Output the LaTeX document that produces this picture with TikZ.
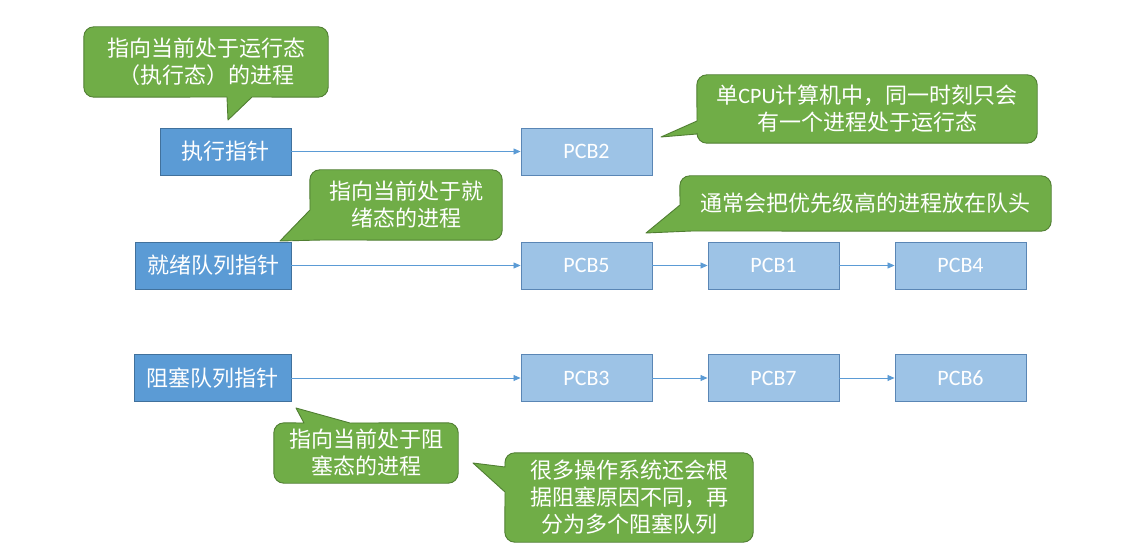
\documentclass[tikz,border=0pt]{standalone}
\usepackage{fontspec}
\setmainfont{Carlito}
\newfontfamily\cjk{Noto Sans CJK SC}
\newfontfamily\lat{Carlito}
\usetikzlibrary{arrows.meta}
\definecolor{dblue}{HTML}{5B9BD5}
\definecolor{bord}{HTML}{41719C}
\definecolor{lblue}{HTML}{9DC3E6}
\definecolor{lbord}{HTML}{5A86B5}
\definecolor{cgreen}{HTML}{70AD47}
\definecolor{gbord}{HTML}{507E32}
\pgfdeclarelayer{bg}
\pgfsetlayers{bg,main}
\tikzset{
  ptrbox/.style={draw=bord, fill=dblue, line width=0.9pt, text=white,
    font=\cjk\fontsize{22}{26}\selectfont, inner sep=0pt, minimum height=47},
  pcbbox/.style={draw=lbord, fill=lblue, line width=0.9pt, text=white,
    font=\lat\fontsize{22}{26}\selectfont, inner sep=0pt, minimum width=131, minimum height=47},
  link/.style={draw=dblue, line width=0.8pt, -{Triangle[length=7pt,width=6pt]}},
  ctext/.style={text=white, font=\cjk\fontsize{22}{27}\selectfont, align=center, inner sep=0pt},
  callout/.style={fill=cgreen, draw=gbord, line width=0.9pt, line join=round},
}
\begin{document}
\begin{tikzpicture}[x=1pt,y=-1pt]
\useasboundingbox (0,0) rectangle (1124,548);
% pointer boxes
\node[ptrbox, minimum width=131] (ex) at (225.5,151.5) {执行指针};
\node[ptrbox, minimum width=156] (rd) at (213,265.5) {就绪队列指针};
\node[ptrbox, minimum width=157] (bl) at (212.5,378) {阻塞队列指针};
% PCB boxes
\node[pcbbox] (p2) at (586.5,151.5) {PCB2};
\node[pcbbox] (p5) at (586.5,265.5) {PCB5};
\node[pcbbox] (p1) at (773.5,265.5) {PCB1};
\node[pcbbox] (p4) at (960.5,265.5) {PCB4};
\node[pcbbox] (p3) at (586.5,378) {PCB3};
\node[pcbbox] (p7) at (773.5,378) {PCB7};
\node[pcbbox] (p6) at (960.5,378) {PCB6};
% links
\draw[link] (ex) -- (p2);
\draw[link] (rd) -- (p5);
\draw[link] (p5) -- (p1);
\draw[link] (p1) -- (p4);
\draw[link] (bl) -- (p3);
\draw[link] (p3) -- (p7);
\draw[link] (p7) -- (p6);
% callout texts
\node[ctext, minimum width=244, minimum height=70] (c1) at (206,62) {指向当前处于运行态\\（执行态）的进程};
\node[ctext, minimum width=340, minimum height=68] (c2) at (867,109) {单{\lat CPU}计算机中，同一时刻只会\\有一个进程处于运行态};
\node[ctext, minimum width=192, minimum height=70] (c3) at (406,205) {指向当前处于就\\绪态的进程};
\node[ctext, minimum width=371, minimum height=55] (c4) at (865.5,203.5) {通常会把优先级高的进程放在队头};
\node[ctext, minimum width=184, minimum height=60] (c5) at (366,453) {指向当前处于阻\\塞态的进程};
\node[ctext, minimum width=248, minimum height=89] (c6) at (629,497.5) {很多操作系统还会根\\据阻塞原因不同，再\\分为多个阻塞队列};
% pointer coordinates
\coordinate (t1) at (228,120);
\coordinate (a1) at (227,97);
\coordinate (b1) at (252,97);
\coordinate (t2) at (661,137);
\coordinate (a2) at (697,134);
\coordinate (b2) at (697,121);
\coordinate (t3) at (280,241);
\coordinate (a3) at (322,240);
\coordinate (b3) at (310,210);
\coordinate (t4) at (646,233);
\coordinate (a4) at (692,231);
\coordinate (b4) at (680,205);
\coordinate (t5) at (296,408);
\coordinate (a5) at (304,423);
\coordinate (b5) at (350,423);
\coordinate (t6) at (473,463);
\coordinate (a6) at (505,492);
\coordinate (b6) at (505,467);
\begin{pgfonlayer}{bg}
\draw[callout] (c1.north) [rounded corners=10] -- (c1.north east) -- (c1.south east) [sharp corners] -- (b1) -- (t1) -- (a1) [rounded corners=10] -- (c1.south west) -- (c1.north west) -- cycle;
\draw[callout] (c2.north) [rounded corners=10] -- (c2.north east) -- (c2.south east) -- (c2.south west) [sharp corners] -- (a2) -- (t2) -- (b2) [rounded corners=10] -- (c2.north west) -- cycle;
\draw[callout] (c3.north) [rounded corners=10] -- (c3.north east) -- (c3.south east) [sharp corners] -- (a3) -- (t3) -- (b3) [rounded corners=10] -- (c3.north west) -- cycle;
\draw[callout] (c4.north) [rounded corners=10] -- (c4.north east) -- (c4.south east) [sharp corners] -- (a4) -- (t4) -- (b4) [rounded corners=10] -- (c4.north west) -- cycle;
\draw[callout] (c5.south) [rounded corners=10] -- (c5.south west) -- (c5.north west) [sharp corners] -- (a5) -- (t5) -- (b5) [rounded corners=10] -- (c5.north east) -- (c5.south east) -- cycle;
\draw[callout] (c6.north) [rounded corners=10] -- (c6.north east) -- (c6.south east) -- (c6.south west) [sharp corners] -- (a6) -- (t6) -- (b6) [rounded corners=10] -- (c6.north west) -- cycle;
\end{pgfonlayer}
\end{tikzpicture}
\end{document}
